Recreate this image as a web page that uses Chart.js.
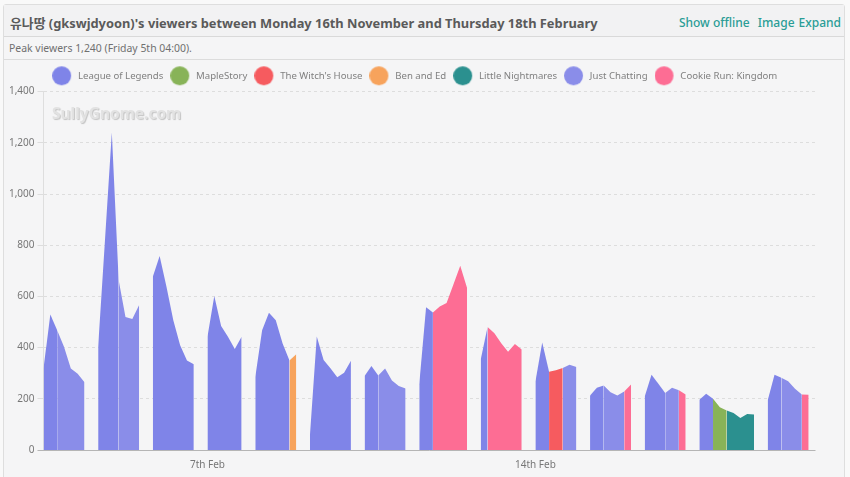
<!DOCTYPE html>
<html>
<head>
<meta charset="utf-8">
<title>Viewers</title>
<script src="https://cdn.jsdelivr.net/npm/chart.js@4"></script>
<style>
html, body { margin: 0; height: 477px; overflow: hidden; background: #f9f9f9; font-family: "Noto Sans", "Noto Sans CJK KR", sans-serif; }
#panel { position: absolute; left: 3px; top: 4px; width: 842px; height: 480px; background: #f5f5f6; border: 1px solid #dedede; box-sizing: border-box; border-radius: 3px; }
#header { position: absolute; left: 0; top: 0; right: 0; height: 31px; background: #f2f2f3; border-bottom: 1px solid #d9d9d9; }
#title { position: absolute; left: 6px; top: 8px; font-size: 12.85px; font-weight: 700; color: #5a5a5a; white-space: nowrap; }
#links { position: absolute; right: 3px; top: 9px; font-size: 12px; font-weight: 500; color: #2a9d96; white-space: nowrap; }
#links span { margin-left: 4px; }
#links span.gap { margin-left: 8px; }
#peak { position: absolute; left: 5px; top: 36px; font-size: 10.45px; color: #707070; white-space: nowrap; }
#rule { position: absolute; left: 0; right: 0; top: 54px; border-top: 1px solid #dcdcdc; }
#mark { position: absolute; left: 52px; top: 102px; font-size: 15.5px; font-weight: 700; color: #e2e2e2; text-shadow: 1px 1px 1px #c4c4c4; white-space: nowrap; }
#viewersChart { position: absolute; left: 0; top: 60px; }
</style>
</head>
<body>
<div id="panel">
    <div id="header">
        <div id="title">유나땅 (gkswjdyoon)'s viewers between Monday 16th November and Thursday 18th February</div>
        <div id="links"><span>Show offline</span><span class="gap">Image</span><span>Expand</span></div>
    </div>
    <div id="peak">Peak viewers 1,240 (Friday 5th 04:00).</div>
    <div id="rule"></div>
</div>
<canvas id="viewersChart" width="850" height="417"></canvas>
<div id="mark">SullyGnome.com</div>
<script>
const L = 'League of Legends', M = 'MapleStory', W = "The Witch's House", B = 'Ben and Ed', N = 'Little Nightmares', J = 'Just Chatting', C = 'Cookie Run: Kingdom';

const seriesNames = [L, M, W, B, N, J, C];
const seriesColors = ['#7f84e8', '#88b358', '#f65b5f', '#f7a35c', '#2b908f', '#8a8de9', '#fd6d94'];
const yTicks = [0, 200, 400, 600, 800, 1000, 1200, 1400];
const xTickLabels = { 24: '7th Feb', 72: '14th Feb' };

// one row per stream, null = offline slot
const viewers = [
    318, 529, 468, 403, 318, 298, 265, null,
    403, 820, 1240, 664, 520, 512, 566, null,
    677, 758, 638, 507, 409, 350, 335, null,
    442, 602, 484, 442, 395, 442, null,
    285, 468, 536, 507, 416, 350, 374, null,
    58, 443, 352, 319, 284, 302, 349, null,
    289, 328, 291, 318, 271, 250, 240, null,
    257, 558, 537, 561, 574, 646, 720, 633, null,
    354, 480, 456, 417, 384, 414, 393, null,
    267, 420, 306, 312, 320, 333, 324, null,
    213, 243, 252, 226, 213, 229, 256, null,
    209, 294, 259, 223, 243, 233, 217, null,
    196, 220, 200, 167, 154, 145, 125, 141, 139, null,
    193, 294, 282, 269, 239, 217, 216, null
];

// game played from each slot to the next one
const slotGame = [
    L, L, J, J, J, J, null, null,
    L, L, L, J, J, J, null, null,
    L, L, L, L, L, L, null, null,
    L, L, L, L, L, null, null,
    L, L, L, L, L, B, null, null,
    L, L, L, L, L, L, null, null,
    L, L, J, J, J, J, null, null,
    L, L, C, C, C, C, C, null, null,
    L, C, C, C, C, C, null, null,
    L, L, W, W, J, J, null, null,
    L, L, J, J, J, C, null, null,
    L, L, L, J, J, C, null, null,
    L, L, M, M, N, N, N, N, null, null,
    L, L, J, J, J, C, null, null
];

// legend dot, bigger than the legend font allows
function legendDot(color) {
    const c = document.createElement('canvas');
    c.width = 21;
    c.height = 21;
    const g = c.getContext('2d');
    g.fillStyle = color;
    g.beginPath();
    g.arc(9.5, 10.5, 9.5, 0, Math.PI * 2);
    g.fill();
    return c;
}

const datasets = seriesNames.map(function (name, s) {
    return {
        label: name,
        data: viewers.map((v, i) => (slotGame[i] === name || slotGame[i - 1] === name) ? v : null),
        backgroundColor: seriesColors[s],
        borderColor: seriesColors[s],
        borderWidth: 0,
        pointRadius: 0,
        pointHoverRadius: 0,
        pointStyle: legendDot(seriesColors[s]),
        tension: 0,
        fill: 'origin'
    };
});

new Chart(document.getElementById('viewersChart').getContext('2d'), {
    type: 'line',
    data: { labels: viewers.map((v, i) => i), datasets: datasets },
    options: {
        responsive: false,
        animation: false,
        layout: { padding: { left: 0, right: 34.5, top: 4, bottom: 0 } },
        plugins: {
            tooltip: { enabled: false },
            legend: {
                onClick: null,
                labels: {
                    usePointStyle: true,
                    pointStyleWidth: 21,
                    boxHeight: 10,
                    padding: 7,
                    color: '#808080',
                    font: { family: '"Noto Sans", sans-serif', size: 9.6 }
                }
            }
        },
        scales: {
            x: {
                offset: false,
                min: 0,
                max: viewers.length - 1,
                grid: {
                    tickLength: 6,
                    color: ctx => xTickLabels[ctx.index] ? '#d8d8d8' : 'transparent'
                },
                border: { dash: [2, 3], display: false },
                ticks: {
                    autoSkip: false,
                    maxRotation: 0,
                    color: '#777',
                    padding: 3,
                    font: { family: '"Noto Sans", sans-serif', size: 10 },
                    callback: (value, index) => xTickLabels[index] || null
                },
                afterFit: function (scale) { scale.height = 27; }
            },
            y: {
                min: 0,
                max: 1400,
                grid: {
                    color: ctx => ctx.tick.value === 0 ? '#b5b5b5' : '#dddddd',
                    tickLength: 6
                },
                border: { dash: ctx => ctx.tick.value === 0 ? [] : [3, 3], display: false },
                afterBuildTicks: function (scale) { scale.ticks = yTicks.map(v => ({ value: v })); },
                ticks: {
                    color: '#777',
                    padding: 3,
                    font: { family: '"Noto Sans", sans-serif', size: 10 }
                },
                afterFit: function (scale) { scale.width = 43.5; }
            }
        }
    },
    plugins: [{
        // extra room under the legend, legend centred further right, solid line on the left edge
        id: 'axisLines',
        beforeInit: function (chart) {
            const fit = chart.legend.fit;
            chart.legend.fit = function () {
                fit.call(this);
                this.height += 1;
            };
        },
        afterLayout: function (chart) {
            chart.legend.left += 7;
            chart.legend.right += 7;
        },
        beforeDatasetsDraw: function (chart) {
            const a = chart.chartArea, g = chart.ctx;
            g.save();
            g.strokeStyle = '#dedede';
            g.beginPath();
            g.moveTo(a.left, a.top);
            g.lineTo(a.left, a.bottom);
            g.stroke();
            g.restore();
        }
    }]
});
</script>
</body>
</html>
